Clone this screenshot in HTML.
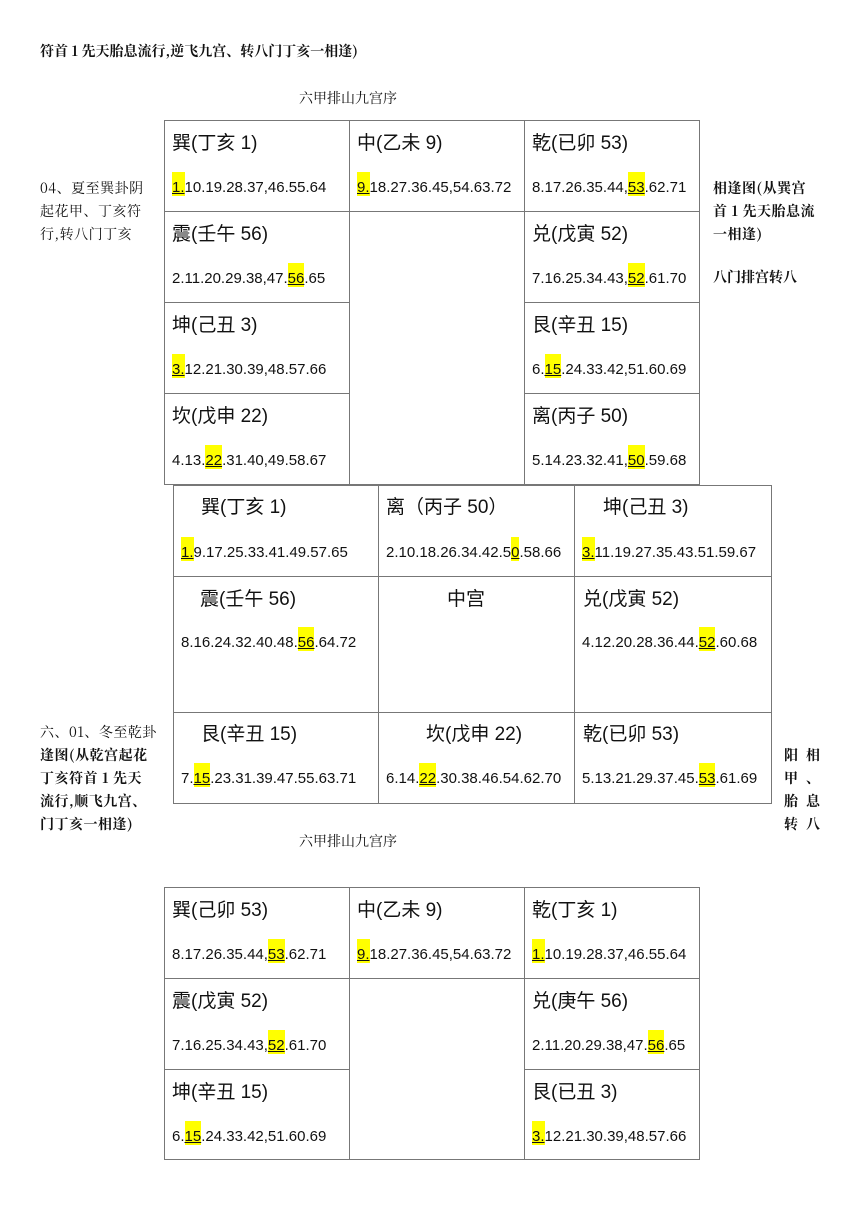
<!DOCTYPE html>
<html><head><meta charset="utf-8"><style>
body{margin:0;width:860px;height:1217px;background:#fff;position:relative;overflow:hidden;font-family:"Liberation Sans","Noto Sans CJK SC",sans-serif;color:#111}
.a{position:absolute;white-space:nowrap}
.h{position:absolute;background:#777}
.t{position:absolute;font-size:19px;line-height:22px;white-space:nowrap}
.n{position:absolute;font-size:15px;line-height:18px;white-space:nowrap}
.y{background:#ffff00;padding-top:7px;text-decoration:underline}
.s{font-family:"Noto Serif CJK SC","Liberation Serif",serif;font-size:14px;line-height:23px;position:absolute;white-space:nowrap}
.b{font-weight:bold}
</style></head><body>
<div class="s b" style="left:40px;top:40px;font-size:14px">符首 1 先天胎息流行,逆飞九宫、转八门丁亥一相逢)</div>
<div class="s" style="left:299px;top:87px;font-size:14px">六甲排山九宫序</div>
<div class="s" style="left:40px;top:177px;letter-spacing:0.5px">04、夏至巽卦阴<br>起花甲、丁亥符<br>行,转八门丁亥</div>
<div class="s b" style="left:713px;top:177px;letter-spacing:0.5px">相逢图(从巽宫<br>首 1 先天胎息流<br>一相逢)</div>
<div class="s b" style="left:713px;top:266px">八门排宫转八</div>

<!-- table 1 -->
<div class="h" style="left:164px;top:120px;width:536px;height:1px"></div>
<div class="h" style="left:164px;top:484px;width:536px;height:1px"></div>
<div class="h" style="left:164px;top:120px;width:1px;height:365px"></div>
<div class="h" style="left:349px;top:120px;width:1px;height:365px"></div>
<div class="h" style="left:524px;top:120px;width:1px;height:365px"></div>
<div class="h" style="left:699px;top:120px;width:1px;height:365px"></div>
<div class="h" style="left:164px;top:211px;width:536px;height:1px"></div>
<div class="h" style="left:164px;top:302px;width:185px;height:1px"></div>
<div class="h" style="left:524px;top:302px;width:175px;height:1px"></div>
<div class="h" style="left:164px;top:393px;width:185px;height:1px"></div>
<div class="h" style="left:524px;top:393px;width:175px;height:1px"></div>

<div class="t" style="left:172px;top:133px">巽(丁亥 1)</div><div class="n" style="left:172px;top:179px"><span class="y">1.</span>10.19.28.37,46.55.64</div>
<div class="t" style="left:357px;top:133px">中(乙未 9)</div><div class="n" style="left:357px;top:179px"><span class="y">9.</span>18.27.36.45,54.63.72</div>
<div class="t" style="left:532px;top:133px">乾(已卯 53)</div><div class="n" style="left:532px;top:179px">8.17.26.35.44,<span class="y">53</span>.62.71</div>
<div class="t" style="left:172px;top:224px">震(壬午 56)</div><div class="n" style="left:172px;top:270px">2.11.20.29.38,47.<span class="y">56</span>.65</div>
<div class="t" style="left:532px;top:224px">兑(戊寅 52)</div><div class="n" style="left:532px;top:270px">7.16.25.34.43,<span class="y">52</span>.61.70</div>
<div class="t" style="left:172px;top:315px">坤(己丑 3)</div><div class="n" style="left:172px;top:361px"><span class="y">3.</span>12.21.30.39,48.57.66</div>
<div class="t" style="left:532px;top:315px">艮(辛丑 15)</div><div class="n" style="left:532px;top:361px">6.<span class="y">15</span>.24.33.42,51.60.69</div>
<div class="t" style="left:172px;top:406px">坎(戊申 22)</div><div class="n" style="left:172px;top:452px">4.13.<span class="y">22</span>.31.40,49.58.67</div>
<div class="t" style="left:532px;top:406px">离(丙子 50)</div><div class="n" style="left:532px;top:452px">5.14.23.32.41,<span class="y">50</span>.59.68</div>

<!-- table 2 -->
<div class="h" style="left:173px;top:485px;width:599px;height:1px"></div>
<div class="h" style="left:173px;top:576px;width:599px;height:1px"></div>
<div class="h" style="left:173px;top:712px;width:599px;height:1px"></div>
<div class="h" style="left:173px;top:803px;width:599px;height:1px"></div>
<div class="h" style="left:173px;top:485px;width:1px;height:319px"></div>
<div class="h" style="left:378px;top:485px;width:1px;height:319px"></div>
<div class="h" style="left:574px;top:485px;width:1px;height:319px"></div>
<div class="h" style="left:771px;top:485px;width:1px;height:319px"></div>

<div class="t" style="left:201px;top:497px">巽(丁亥 1)</div><div class="n" style="left:181px;top:544px"><span class="y">1.</span>9.17.25.33.41.49.57.65</div>
<div class="t" style="left:386px;top:497px">离（丙子 50）</div><div class="n" style="left:386px;top:544px">2.10.18.26.34.42.5<span class="y">0</span>.58.66</div>
<div class="t" style="left:603px;top:497px">坤(己丑 3)</div><div class="n" style="left:582px;top:544px"><span class="y">3.</span>11.19.27.35.43.51.59.67</div>
<div class="t" style="left:200px;top:589px">震(壬午 56)</div><div class="n" style="left:181px;top:634px">8.16.24.32.40.48.<span class="y">56</span>.64.72</div>
<div class="t" style="left:447px;top:589px">中宫</div>
<div class="t" style="left:583px;top:589px">兑(戊寅 52)</div><div class="n" style="left:582px;top:634px">4.12.20.28.36.44.<span class="y">52</span>.60.68</div>
<div class="t" style="left:201px;top:724px">艮(辛丑 15)</div><div class="n" style="left:181px;top:770px">7.<span class="y">15</span>.23.31.39.47.55.63.71</div>
<div class="t" style="left:426px;top:724px">坎(戊申 22)</div><div class="n" style="left:386px;top:770px">6.14.<span class="y">22</span>.30.38.46.54.62.70</div>
<div class="t" style="left:583px;top:724px">乾(已卯 53)</div><div class="n" style="left:582px;top:770px">5.13.21.29.37.45.<span class="y">53</span>.61.69</div>

<div class="s" style="left:40px;top:721px;letter-spacing:0.5px">六、01、冬至乾卦</div>
<div class="s b" style="left:40px;top:744px;letter-spacing:0.5px">逢图(从乾宫起花<br>丁亥符首 1 先天<br>流行,顺飞九宫、<br>门丁亥一相逢)</div>
<div class="s b" style="left:784px;top:744px;letter-spacing:8px;line-height:23px">阳相<br>甲、<br>胎息<br>转八</div>
<div class="s" style="left:299px;top:830px;font-size:14px">六甲排山九宫序</div>

<!-- table 3 -->
<div class="h" style="left:164px;top:887px;width:536px;height:1px"></div>
<div class="h" style="left:164px;top:1159px;width:536px;height:1px"></div>
<div class="h" style="left:164px;top:887px;width:1px;height:273px"></div>
<div class="h" style="left:349px;top:887px;width:1px;height:273px"></div>
<div class="h" style="left:524px;top:887px;width:1px;height:273px"></div>
<div class="h" style="left:699px;top:887px;width:1px;height:273px"></div>
<div class="h" style="left:164px;top:978px;width:536px;height:1px"></div>
<div class="h" style="left:164px;top:1069px;width:185px;height:1px"></div>
<div class="h" style="left:524px;top:1069px;width:175px;height:1px"></div>

<div class="t" style="left:172px;top:900px">巽(己卯 53)</div><div class="n" style="left:172px;top:946px">8.17.26.35.44,<span class="y">53</span>.62.71</div>
<div class="t" style="left:357px;top:900px">中(乙未 9)</div><div class="n" style="left:357px;top:946px"><span class="y">9.</span>18.27.36.45,54.63.72</div>
<div class="t" style="left:532px;top:900px">乾(丁亥 1)</div><div class="n" style="left:532px;top:946px"><span class="y">1.</span>10.19.28.37,46.55.64</div>
<div class="t" style="left:172px;top:991px">震(戊寅 52)</div><div class="n" style="left:172px;top:1037px">7.16.25.34.43,<span class="y">52</span>.61.70</div>
<div class="t" style="left:532px;top:991px">兑(庚午 56)</div><div class="n" style="left:532px;top:1037px">2.11.20.29.38,47.<span class="y">56</span>.65</div>
<div class="t" style="left:172px;top:1082px">坤(辛丑 15)</div><div class="n" style="left:172px;top:1128px">6.<span class="y">15</span>.24.33.42,51.60.69</div>
<div class="t" style="left:532px;top:1082px">艮(已丑 3)</div><div class="n" style="left:532px;top:1128px"><span class="y">3.</span>12.21.30.39,48.57.66</div>
</body></html>
